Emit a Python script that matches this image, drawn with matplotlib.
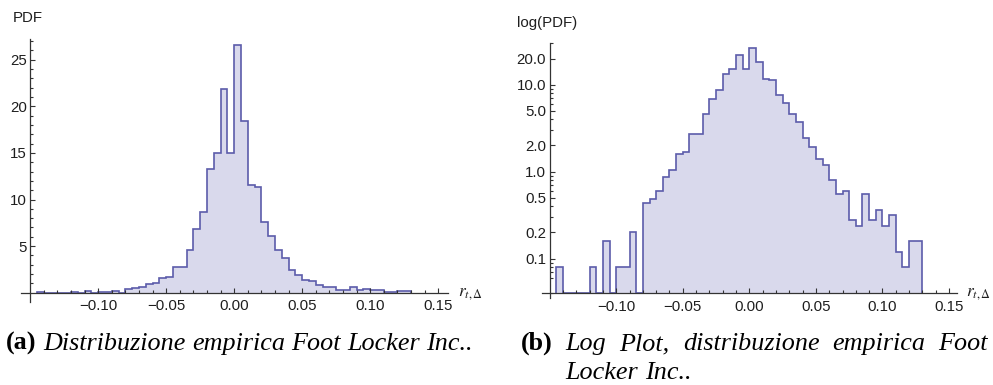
import numpy as np
import matplotlib
matplotlib.use("Agg")
import matplotlib.pyplot as plt
from matplotlib.ticker import FixedLocator, FixedFormatter, NullFormatter

# ---------------- data ----------------
bin_start = -0.145
bin_width = 0.005
pdf_values = [0.08, 0, 0, 0, 0, 0.08, 0, 0.16, 0, 0.08, 0.08, 0.2, 0,
              0.44, 0.48, 0.6, 0.88, 1.04, 1.6, 1.68, 2.72, 2.72, 4.56, 6.84,
              8.68, 13.28, 15.0, 21.88, 15.0, 26.6, 18.4, 11.6, 11.32, 7.6,
              6.12, 4.6, 3.68, 2.44, 1.92, 1.4, 1.2, 0.8, 0.56, 0.6, 0.28,
              0.24, 0.56, 0.28, 0.36, 0.24, 0.32, 0.12, 0.08, 0.16, 0.16]
x_major = [-0.10, -0.05, 0.0, 0.05, 0.10, 0.15]
x_major_labels = ["\u22120.10", "\u22120.05", "0.00", "0.05", "0.10", "0.15"]
lin_y_major = [5, 10, 15, 20, 25]
lin_y_labels = ["5", "10", "15", "20", "25"]
log_y_major = [0.1, 0.2, 0.5, 1.0, 2.0, 5.0, 10.0, 20.0]
log_y_labels = ["0.1", "0.2", "0.5", "1.0", "2.0", "5.0", "10.0", "20.0"]
caption_a = ("(a)", "Distribuzione empirica Foot Locker Inc..")
caption_b = ("(b)", "Log Plot, distribuzione empirica Foot", "Locker Inc..")

# ---------------- style ----------------
FILL = "#d9d9ec"
EDGE = "#5c5caa"
AXC = "#333333"
TXT = "#1e1e1e"
SANS = "Liberation Sans"
SERIF = "Liberation Serif"
TFS = 10.8
plt.rcParams["mathtext.fontset"] = "stix"

W, H = 993, 385
fig = plt.figure(figsize=(W / 100, H / 100), dpi=100)
renderer = fig.canvas.get_renderer()

vals = np.array(pdf_values, dtype=float)
edges = bin_start + bin_width * np.arange(len(vals) + 1)

x_minor = [round(v, 2) for v in np.arange(-0.14, 0.151, 0.01)
           if all(abs(v - m) > 1e-6 for m in x_major)]


def style_axes(ax, x_axis_y):
    for s in ("top", "right"):
        ax.spines[s].set_visible(False)
    ax.spines["left"].set_position(("data", -0.15))
    ax.spines["bottom"].set_position(("data", x_axis_y))
    for s in ("left", "bottom"):
        ax.spines[s].set_color(AXC)
        ax.spines[s].set_linewidth(0.9)
    ax.xaxis.set_major_locator(FixedLocator(x_major))
    ax.xaxis.set_major_formatter(FixedFormatter(x_major_labels))
    ax.xaxis.set_minor_locator(FixedLocator(x_minor))
    ax.xaxis.set_minor_formatter(NullFormatter())
    ax.tick_params(which="both", direction="in", color=AXC, width=0.8,
                   labelcolor=TXT, labelsize=TFS)
    ax.tick_params(which="major", length=3.3)
    ax.tick_params(which="minor", length=1.9)
    ax.tick_params(axis="x", which="both", pad=4.5)
    ax.tick_params(axis="y", which="both", pad=2.5)
    for lab in ax.get_xticklabels() + ax.get_yticklabels():
        lab.set_fontfamily(SANS)
    ax.patch.set_visible(False)


# ---------------- panel (a): linear ----------------
ax1 = fig.add_axes([20.7 / W, 1 - 301.7 / H, 427.6 / W, 262.4 / H])
ax1.set_xlim(-0.157, 0.1574)
ax1.set_ylim(-0.97, 27.2)
ax1.stairs(vals, edges, baseline=0, fill=True, color=FILL, linewidth=0)
ax1.stairs(vals, edges, baseline=0, color=EDGE, linewidth=1.2)
ax1.yaxis.set_major_locator(FixedLocator(lin_y_major))
ax1.yaxis.set_major_formatter(FixedFormatter(lin_y_labels))
ax1.yaxis.set_minor_locator(FixedLocator([v for v in range(1, 28) if v % 5]))
ax1.yaxis.set_minor_formatter(NullFormatter())
style_axes(ax1, 0)

# ---------------- panel (b): log ----------------
floor = 0.04
ax2 = fig.add_axes([541.7 / W, 1 - 298 / H, 415.3 / W, 255.3 / H])
ax2.set_yscale("log")
ax2.set_xlim(-0.156, 0.156)
ax2.set_ylim(0.0353, 30.4)
lv = np.where(vals > 0, vals, floor)
ax2.stairs(lv, edges, baseline=floor, fill=True, color=FILL, linewidth=0)
ax2.stairs(lv, edges, baseline=floor, color=EDGE, linewidth=1.2)
ax2.yaxis.set_major_locator(FixedLocator(log_y_major))
ax2.yaxis.set_major_formatter(FixedFormatter(log_y_labels))
log_minor = [0.04, 0.06, 0.07, 0.08, 0.09, 0.3, 0.4, 0.6, 0.7, 0.8, 0.9,
             3, 4, 6, 7, 8, 9, 30]
ax2.yaxis.set_minor_locator(FixedLocator(log_minor))
ax2.yaxis.set_minor_formatter(NullFormatter())
style_axes(ax2, floor)

# ---------------- axis labels ----------------
fig.text(13 / W, 1 - 18 / H, "PDF", fontsize=TFS, family=SANS, color=TXT,
         va="center", ha="left")
fig.text(516.7 / W, 1 - 23 / H, "log(PDF)", fontsize=TFS, family=SANS,
         color=TXT, va="center", ha="left")
fig.text(458 / W, 1 - 293 / H, r"$r_{t,\Delta}$", fontsize=12.5, color=TXT,
         va="center", ha="left")
fig.text(966 / W, 1 - 293 / H, r"$r_{t,\Delta}$", fontsize=12.5, color=TXT,
         va="center", ha="left")


# ---------------- captions ----------------
def tw(s, fs, **kw):
    t = fig.text(0, 0, s, fontsize=fs, family=SERIF, **kw)
    w = t.get_window_extent(renderer).width
    t.remove()
    return w


def runs_for(label, words):
    return [(label, dict(fontweight="bold"))] + [(w, dict(style="italic")) for w in words]


def natural_width(runs, fs):
    sp = tw("a a", fs) - tw("aa", fs)
    return sum(tw(s, fs, **kw) for s, kw in runs) + sp * (len(runs) - 1), sp


def draw_runs(runs, fs, x0, base_y, x1=None):
    total, sp = natural_width(runs, fs)
    gap = sp
    if x1 is not None and len(runs) > 1:
        gap = sp + ((x1 - x0) - total) / (len(runs) - 1)
    x = x0
    starts = []
    for s, kw in runs:
        fig.text(x / W, 1 - base_y / H, s, fontsize=fs, family=SERIF,
                 color="black", va="baseline", ha="left", **kw)
        starts.append(x)
        x += tw(s, fs, **kw) + gap
    return starts


runs_a = runs_for(caption_a[0], caption_a[1].split())
w10, _ = natural_width(runs_a, 10)
cap_fs = 10 * (474 - 6) / w10
draw_runs(runs_a, cap_fs, 6, 350)

runs_b = runs_for(caption_b[0], caption_b[1].split())
starts_b = draw_runs(runs_b, cap_fs, 521, 350, x1=988)
draw_runs([(w, dict(style="italic")) for w in caption_b[2].split()],
          cap_fs, starts_b[1], 379)

fig.savefig("out.png", dpi=100)
